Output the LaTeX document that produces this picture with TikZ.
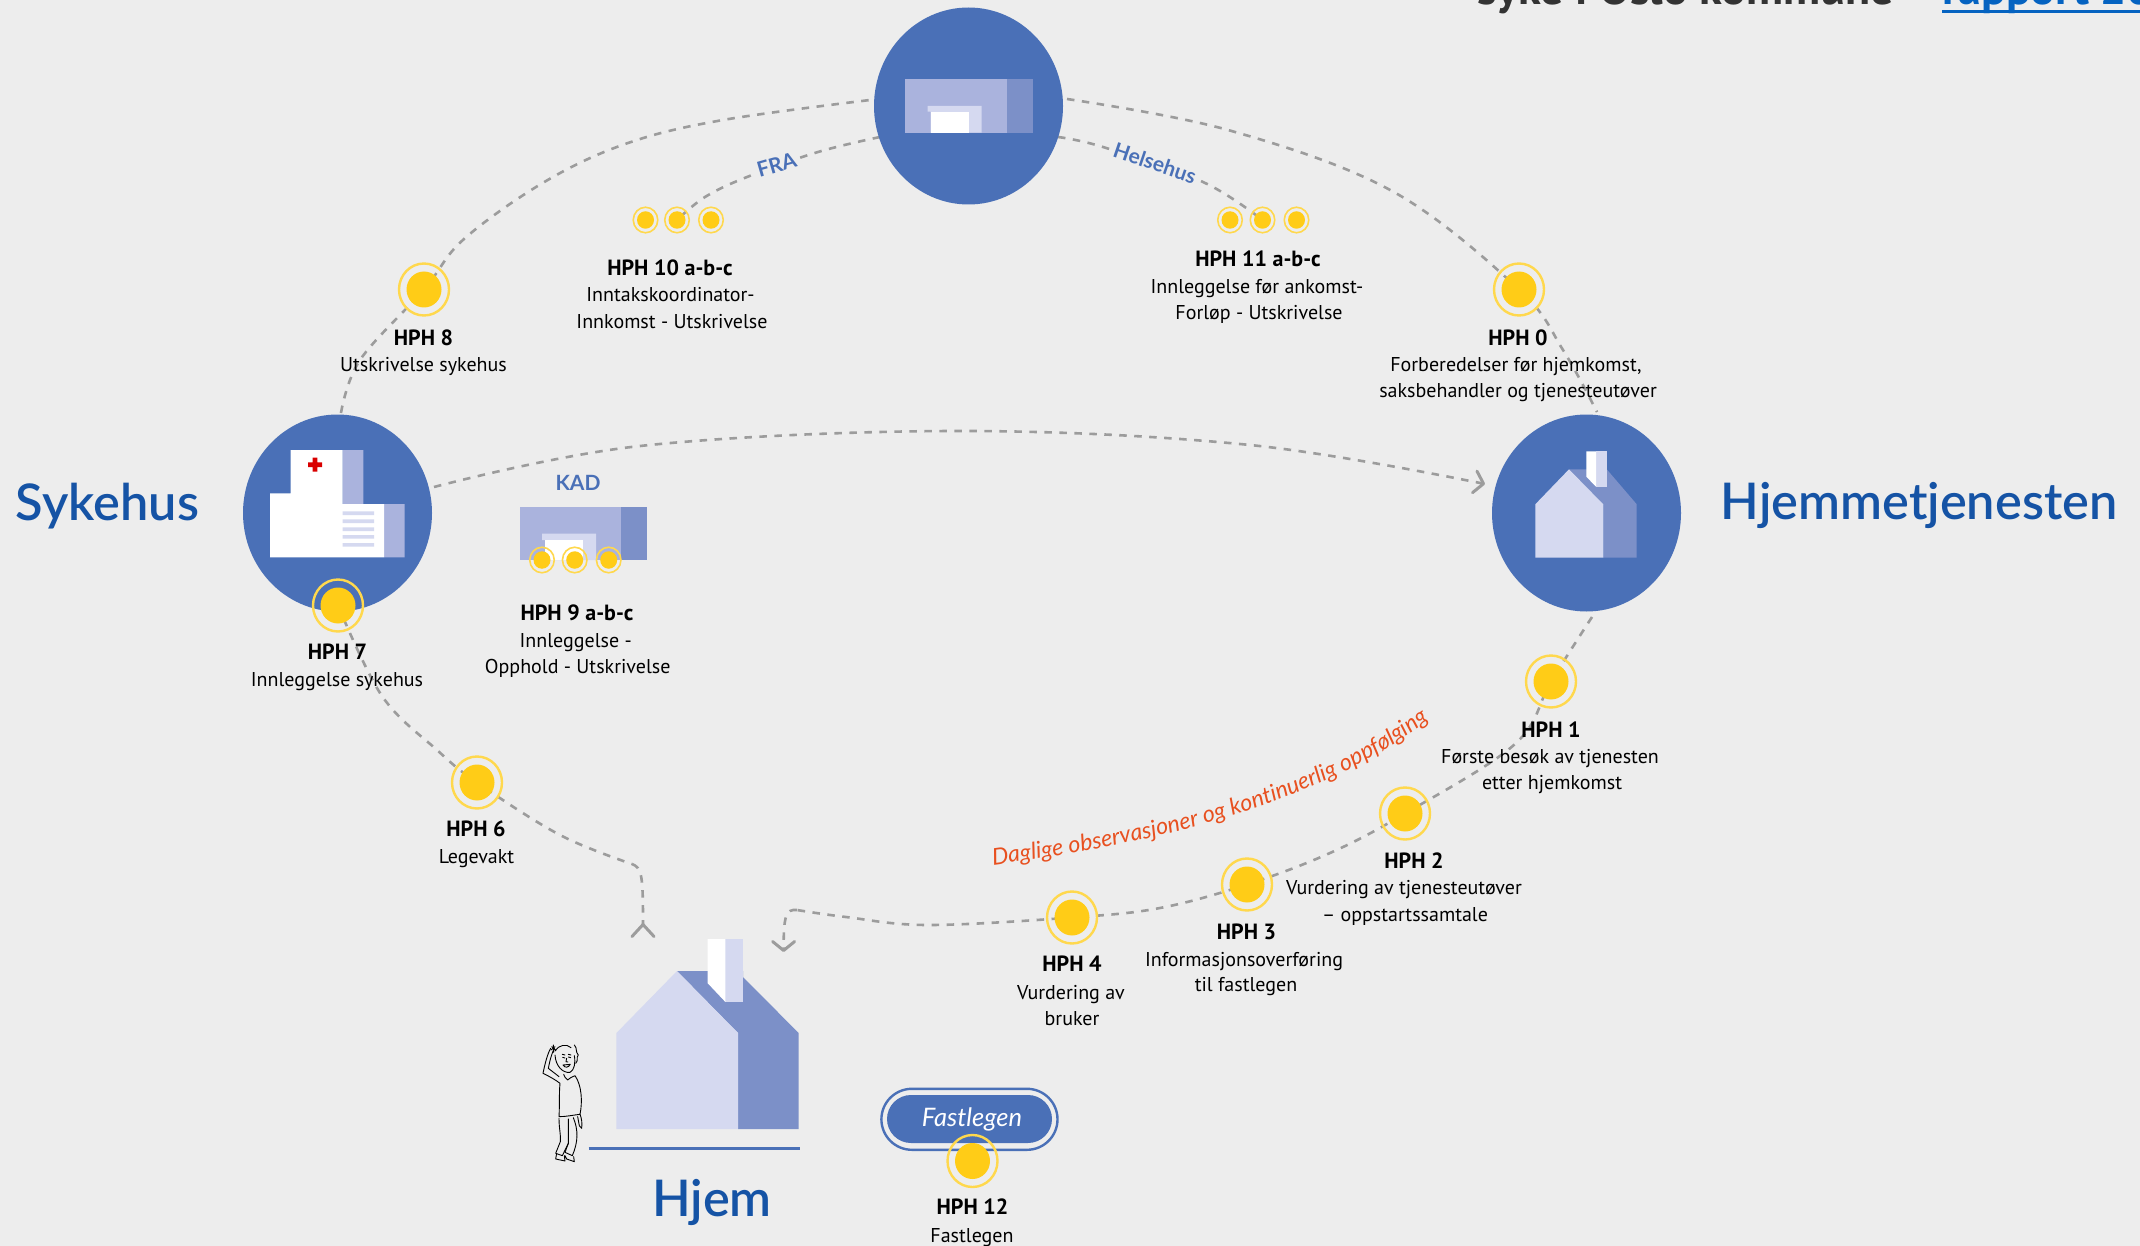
\documentclass[tikz,border=0pt]{standalone}
\usepackage{fontspec}
\usetikzlibrary{shapes.geometric,arrows.meta,decorations.text}
\setmainfont{PT Sans}
\newfontfamily\headfont{Lato}
\newfontfamily\placefont{Lato Semibold}
\definecolor{bgc}{HTML}{EDEDED}
\definecolor{hubc}{HTML}{4A70B7}
\definecolor{lightc}{HTML}{AAB3DD}
\definecolor{midc}{HTML}{7C90C8}
\definecolor{palec}{HTML}{D5D9F0}
\definecolor{sunc}{HTML}{FFCC17}
\definecolor{ringc}{HTML}{FFD84D}
\definecolor{linec}{HTML}{9C9C9C}
\definecolor{headc}{HTML}{1553A5}
\definecolor{orangec}{HTML}{E8501F}
\definecolor{linkc}{HTML}{0563C1}
\definecolor{darktext}{HTML}{333333}
\tikzset{
  x=1pt,y=-1pt,
  hub/.style={ellipse,fill=hubc,minimum width=189pt,minimum height=197pt,inner sep=0pt},
  ringbig/.style={ellipse,draw=ringc,line width=2.4pt,minimum width=50pt,minimum height=52pt,inner sep=0pt},
  corebig/.style={ellipse,fill=sunc,minimum width=35pt,minimum height=36pt,inner sep=0pt},
  ringsmall/.style={ellipse,draw=ringc,line width=1.6pt,minimum width=24.5pt,minimum height=25.5pt,inner sep=0pt},
  coresmall/.style={ellipse,fill=sunc,minimum width=17pt,minimum height=17.5pt,inner sep=0pt},
  conn/.style={draw=linec,line width=2.6pt,dash pattern=on 7.5pt off 7.5pt},
  tipb/.style={-{Straight Barb[length=9pt,width=22pt,line width=3pt,round]}},
  hd/.style={anchor=base,font=\fontsize{22}{22}\selectfont\bfseries,text=black,inner sep=0pt},
  tx/.style={anchor=base,font=\fontsize{20}{20}\selectfont,text=black,inner sep=0pt},
  place/.style={anchor=base,font=\fontsize{50.5}{50.5}\selectfont\placefont,text=headc,inner sep=0pt},
  tag/.style={anchor=base,font=\fontsize{21}{21}\selectfont\headfont\bfseries,text=hubc,inner sep=0pt},
  linetag/.style={tag,anchor=center,fill=bgc,inner sep=3pt},
  cut/.style={anchor=base west,font=\fontsize{46}{46}\selectfont\bfseries,inner sep=0pt},
  person/.style={draw=black,line width=.9pt,line cap=round,line join=round},
}
\newcommand{\bigdot}[3]{\node[ringbig] (#1) at (#2,#3) {};\node[corebig] (#1c) at (#2,#3) {};}
\newcommand{\smalldot}[3]{\node[ringsmall] (#1) at (#2,#3) {};\node[coresmall] (#1c) at (#2,#3) {};}
\begin{document}
\begin{tikzpicture}
\useasboundingbox (0,0) rectangle (2140,1246);
\clip (0,0) rectangle (2140,1246);
\fill[bgc] (0,0) rectangle (2140,1246);

% cropped heading at the top
\node[cut,text=darktext] (crop1) at (1477,5) {syke i Oslo kommune};
\node[cut,text=linkc] (crop2) at (1942,5) {rapport 20};
\fill[linkc] (1942,10.5) rectangle (2140,13.5);

% named points
\coordinate (p8) at (424,289.5);
\coordinate (p0) at (1519,289.5);
\coordinate (p7) at (338,605.5);
\coordinate (p6) at (477,782.5);
\coordinate (p4) at (1072,917.5);
\coordinate (p3) at (1247,884.5);
\coordinate (p2) at (1405,813.5);
\coordinate (p1) at (1551,681.5);
\coordinate (p10) at (677,220);
\coordinate (p11) at (1262.5,220);
\coordinate (sTop) at (341,413);
\coordinate (sRight) at (434,487);
\coordinate (tLeftA) at (870,100);
\coordinate (tLeftB) at (880,137);
\coordinate (tRightA) at (1067,99);
\coordinate (tRightB) at (1058,137);
\coordinate (hTop) at (1597,412);
\coordinate (hBot) at (1592,617);
\coordinate (hLeft) at (1485,484);
\coordinate (homeA) at (643,938);
\coordinate (homeB) at (783.6,952);

% connectors
\draw[conn] plot[smooth,tension=.6] coordinates {(sTop) (360,360) (p8) (464,239) (546,181) (628,143) (723,120) (tLeftA)};
\draw[conn] plot[smooth,tension=.6] coordinates {(tLeftB) (818,152) (747,177) (705,197) (p10)};
\draw[conn] plot[smooth,tension=.6] coordinates {(tRightA) (1228,130) (1392,191) (p0) (1563,350) (hTop)};
\draw[conn] plot[smooth,tension=.6] coordinates {(tRightB) (1103,147) (1203,182) (p11)};
\draw[conn,tipb] plot[smooth,tension=.6] coordinates {(sRight) (640,446) (955,431) (1250,445) (hLeft)};
\draw[conn] plot[smooth,tension=.6] coordinates {(hBot) (p1) (1515,744) (p2) (1330,853) (p3) (1160,908) (p4) (928,925) (846,917) (797,910)};
\draw[conn,tipb] (797,910) .. controls (786,909) and (783.6,915) .. (homeB);
\draw[conn] plot[smooth,tension=.6] coordinates {(p7) (382,696) (437,750) (p6) (560,835) (632,864)};
\draw[conn,-{Straight Barb[reversed,length=12pt,width=22pt,line width=3pt,round]}] (632,864) .. controls (642,868) and (643,875) .. (homeA);

% hubs
\node[hub] (hubT) at (968.5,106) {};
\node[hub] (hubS) at (337.5,513) {};
\node[hub] (hubH) at (1586.5,513) {};

% top icon
\fill[lightc] (905.3,79.3) rectangle (1006.7,132.7);
\fill[midc] (1006.7,79.3) rectangle (1032.7,132.7);
\fill[palec] (927.7,106) rectangle (981.7,111.7) (930.7,111.7) rectangle (981.7,132.7);
\fill[white] (930.7,111.7) rectangle (969,132.7);

% hospital icon
\fill[lightc] (342.7,450) rectangle (363.3,504) (384,504) rectangle (404.7,557.3);
\fill[white] (290.7,450)--(342.7,450)--(342.7,504)--(384,504)--(384,557.3)--(270,557.3)--(270,493.3)--(290.7,493.3)--cycle;
\fill[palec] (342.7,511.3) rectangle (374,515) (342.7,519.3) rectangle (374,523) (342.7,527.3) rectangle (374,531) (342.7,535) rectangle (374,538.7) (342.7,543) rectangle (374,546.7);
\fill[red!85!black] (312.7,457.7) rectangle (317.3,471.7) (308,462.4) rectangle (322,467);

% care-home icon
\fill[midc] (1569,469.3)--(1606.7,469.3)--(1636.7,504.3)--(1636.7,557.7)--(1603.3,557.7)--(1603.3,504.3)--cycle;
\fill[palec] (1535.3,504.3)--(1569,469.3)--(1603.3,504.3)--(1603.3,557.7)--(1535.3,557.7)--cycle;
\fill[palec] (1596,451.3) rectangle (1606.7,486.7);
\fill[white] (1586.3,451.3)--(1596,451.3)--(1596,486.7)--(1586.3,476.7)--cycle;

% KAD icon
\fill[lightc] (520,507.3) rectangle (621.3,560);
\fill[midc] (621.3,507.3) rectangle (646.7,560);
\fill[palec] (542,533.7) rectangle (596,540) (545,540) rectangle (596,560);
\fill[white] (545,540) rectangle (583,560);
\node[tag] (kad) at (578,490) {KAD};

% home
\fill[midc] (677,971)--(743,971)--(743,977)--(798.6,1033)--(798.6,1129)--(738,1129)--(738,1033)--cycle;
\fill[palec] (616.4,1033)--(677,971)--(738,1033)--(738,1129)--(616.4,1129)--cycle;
\fill[palec] (725.4,939) rectangle (743,1002);
\fill[white] (707.5,939)--(725.4,939)--(725.4,1002)--(707.5,983)--cycle;
\draw[hubc,line width=3pt] (588.6,1148) -- (799.6,1148);

% person
\begin{scope}[shift={(535,1035)},x=.3333pt,y=-.3333pt]
\draw[person] (47,40) .. controls (38,55) and (30,85) .. (24,115) .. controls (45,125) and (62,135) .. (75,145) .. controls (72,175) and (74,215) .. (72,245) .. controls (95,245) and (115,240) .. (135,238) .. controls (143,200) and (140,150) .. (120,122) .. controls (112,125) and (102,130) .. (98,135) (98,135) .. controls (92,130) and (88,125) .. (86,118);
\draw[person] (58,40) .. controls (50,55) and (45,75) .. (40,100) .. controls (50,108) and (60,115) .. (72,125);
\draw[person] (60,60) .. controls (62,95) and (85,115) .. (105,112) .. controls (118,105) and (122,85) .. (118,62);
\draw[person] (60,48) .. controls (70,30) and (95,25) .. (108,38) (118,30) .. controls (128,40) and (120,50) .. (130,60) .. controls (122,68) and (132,75) .. (122,85);
\draw[person] (50,35) -- (62,45) (48,45) -- (60,35) (55,30) -- (56,52);
\draw[person] (82,58) -- (90,60) (100,58) -- (108,60) (83,67) -- (90,69) (100,66) -- (107,68) (95,70) -- (93,80) -- (99,81);
\draw[person] (84,90) .. controls (90,100) and (100,98) .. (106,88) -- (84,90);
\draw[person] (135,238) .. controls (140,250) and (142,265) .. (140,280) -- (133,272) -- (128,245);
\draw[person] (72,250) .. controls (72,280) and (78,300) .. (76,320) -- (62,355) -- (82,362) -- (100,325) -- (100,252);
\draw[person] (115,248) .. controls (130,285) and (130,320) .. (112,362) -- (90,352) -- (100,325);
\draw[person] (65,355) -- (62,372) -- (90,378) -- (88,362) (90,362) -- (95,372) -- (118,380) -- (116,365);
\end{scope}

% Fastlegen pill
\draw[hubc,line width=2.4pt] (881.4,1119.3) arc[start angle=180,end angle=90,x radius=30.5pt,y radius=30.5pt] -- (1027,1088.8) arc[start angle=90,end angle=-90,x radius=30.5pt,y radius=30.5pt] -- (911.9,1149.8) arc[start angle=270,end angle=180,x radius=30.5pt,y radius=30.5pt] -- cycle;
\node[fill=hubc,rounded corners=24pt,minimum width=165pt,minimum height=48pt,inner sep=0pt] (pill) at (969.5,1119) {};
\node[anchor=base,font=\fontsize{25.5}{25.5}\selectfont\headfont\itshape,text=white,inner sep=0pt] (pilltext) at (972,1126.5) {Fastlegen};

% dots
\bigdot{hph8}{424}{289.5}
\bigdot{hph0}{1519}{289.5}
\bigdot{hph7}{338}{605.5}
\bigdot{hph6}{477}{782.5}
\bigdot{hph4}{1072}{917.5}
\bigdot{hph3}{1247}{884.5}
\bigdot{hph2}{1405}{813.5}
\bigdot{hph1}{1551}{681.5}
\bigdot{hph12}{972.5}{1161}
\smalldot{a10}{645.5}{220}
\smalldot{b10}{677}{220}
\smalldot{c10}{711}{220}
\smalldot{a11}{1230}{220}
\smalldot{b11}{1262.5}{220}
\smalldot{c11}{1296.5}{220}
\smalldot{a9}{542}{560}
\smalldot{b9}{574.7}{560}
\smalldot{c9}{608.7}{560}

% labels
\node[hd] (l8) at (423.5,345) {HPH 8};
\node[tx] (l8a) at (423.5,371.5) {Utskrivelse sykehus};
\node[hd] (l10) at (670,275.5) {HPH 10 a-b-c};
\node[tx] (l10a) at (670.5,302) {Inntakskoordinator-};
\node[tx] (l10b) at (672,328) {Innkomst - Utskrivelse};
\node[hd] (l11) at (1258,267) {HPH 11 a-b-c};
\node[tx] (l11a) at (1257,294) {Innleggelse før ankomst-};
\node[tx] (l11b) at (1259,319.5) {Forløp - Utskrivelse};
\node[hd] (l0) at (1518,345) {HPH 0};
\node[tx] (l0a) at (1516,371.5) {Forberedelser før hjemkomst,};
\node[tx] (l0b) at (1518,397) {saksbehandler og tjenesteutøver};
\node[hd] (l7) at (337.5,659) {HPH 7};
\node[tx] (l7a) at (337,686.7) {Innleggelse sykehus};
\node[hd] (l9) at (577,620.5) {HPH 9 a-b-c};
\node[tx] (l9a) at (575.7,647) {Innleggelse -};
\node[tx] (l9b) at (577.7,673) {Opphold - Utskrivelse};
\node[hd] (l6) at (476,836.5) {HPH 6};
\node[tx] (l6a) at (476.5,863) {Legevakt};
\node[hd] (l1) at (1551,737) {HPH 1};
\node[tx] (l1a) at (1550,763) {Første besøk av tjenesten};
\node[tx] (l1b) at (1552,789) {etter hjemkomst};
\node[hd] (l2) at (1414,868) {HPH 2};
\node[tx] (l2a) at (1404,894) {Vurdering av tjenesteutøver};
\node[tx] (l2b) at (1405,921) {– oppstartssamtale};
\node[hd] (l3) at (1246.5,939) {HPH 3};
\node[tx] (l3a) at (1244,966.5) {Informasjonsoverføring};
\node[tx] (l3b) at (1246,991) {til fastlegen};
\node[hd] (l4) at (1072,971.5) {HPH 4};
\node[tx] (l4a) at (1071,999) {Vurdering av};
\node[tx] (l4b) at (1072,1025) {bruker};
\node[hd] (l12) at (972.5,1214.5) {HPH 12};
\node[tx] (l12a) at (972,1242) {Fastlegen};

% places
\node[place] (sykehus) at (107.5,520) {Sykehus};
\node[place] (hjemmet) at (1919,519) {Hjemmetjenesten};
\node[place] (hjem) at (712,1216) {Hjem};

% path texts
\node[linetag,rotate=16] (fra) at (776.7,165) {FRA};
\node[linetag,rotate=-18.8] (helsehus) at (1155,163) {Helsehus};
\path[decorate,decoration={text along path,text align=left,text={|\fontsize{23.1}{23.1}\selectfont\headfont\itshape\color{orangec}|Daglige observasjoner og kontinuerlig oppfølging}}]
  (993,865) .. controls (1150,845) and (1320,805) .. (1434,716);
\end{tikzpicture}
\end{document}
